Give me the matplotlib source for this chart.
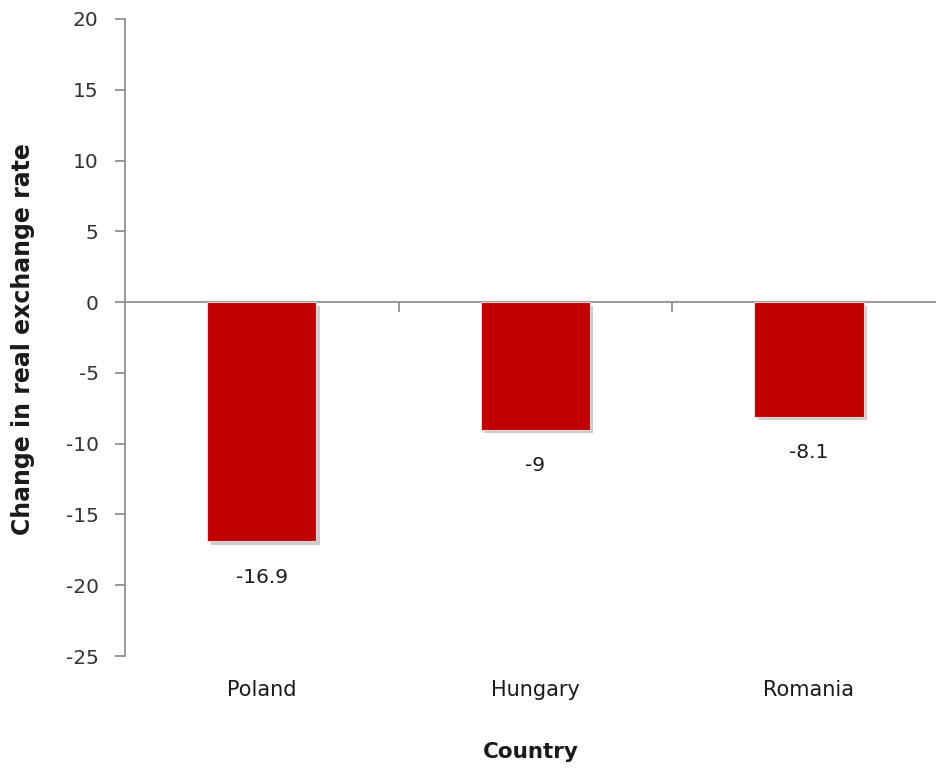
import numpy as np
import matplotlib.pyplot as plt
import matplotlib.patheffects as pe
import matplotlib.transforms as mtransforms

countries = ["Poland", "Hungary", "Romania"]
changes = [-16.9, -9, -8.1]
value_labels = ["-16.9", "-9", "-8.1"]
y_ticks = [-25, -20, -15, -10, -5, 0, 5, 10, 15, 20]

plt.rcParams['font.family'] = ['DejaVu Sans']

fig = plt.figure(figsize=(9.36, 7.70), dpi=100)
ax = fig.add_axes([125 / 936, 114 / 770, 811 / 936, 637 / 770])

x = np.arange(len(countries))
bars = ax.bar(x, changes, width=0.4, color='#C00000', edgecolor='#F4D0D0',
              linewidth=0.8, zorder=3)
for b in bars:
    b.set_path_effects([pe.SimplePatchShadow(offset=(2.5, -2.5), shadow_rgbFace='#808080',
                                             alpha=0.4), pe.Normal()])

# value labels under the bars
for xi, v, lab in zip(x, changes, value_labels):
    ax.annotate(lab, (xi, v), xytext=(0, -26), textcoords='offset points',
                ha='center', va='center', fontsize=14.5, color='#1a1a1a')

ax.set_xlim(-0.5, 2.465)
ax.set_ylim(-25, 20)
ax.set_yticks(y_ticks)
ax.set_yticklabels([str(t) for t in y_ticks], fontsize=14.5, color='#333333')
ax.tick_params(axis='y', direction='out', length=7, width=1.2, color='#888888', pad=12)

# x axis line sits at zero, with tick marks between categories
for s in ['top', 'right']:
    ax.spines[s].set_visible(False)
ax.spines['left'].set_color('#888888')
ax.spines['left'].set_linewidth(1.2)
ax.spines['bottom'].set_position(('data', 0))
ax.spines['bottom'].set_color('#888888')
ax.spines['bottom'].set_linewidth(1.2)
ax.set_xticks([0.5, 1.5])
ax.set_xticklabels([])
ax.tick_params(axis='x', direction='out', length=7, width=1.2, color='#888888')

# category names below the plot area
trans = mtransforms.blended_transform_factory(ax.transData, ax.transAxes)
for xi, name in zip(x, countries):
    ax.text(xi, -0.053, name, transform=trans, ha='center', va='center',
            fontsize=15, color='#1a1a1a')

ax.text(0.985, -0.151, 'Country', transform=trans, ha='center', va='center',
        fontsize=15.5, fontweight='bold', color='#1a1a1a')
fig.text(23 / 936, 1 - 339 / 770, 'Change in real exchange rate', rotation=90,
         ha='center', va='center', fontsize=17, fontweight='bold', color='#1a1a1a')

fig.savefig('out.png', dpi=100)
